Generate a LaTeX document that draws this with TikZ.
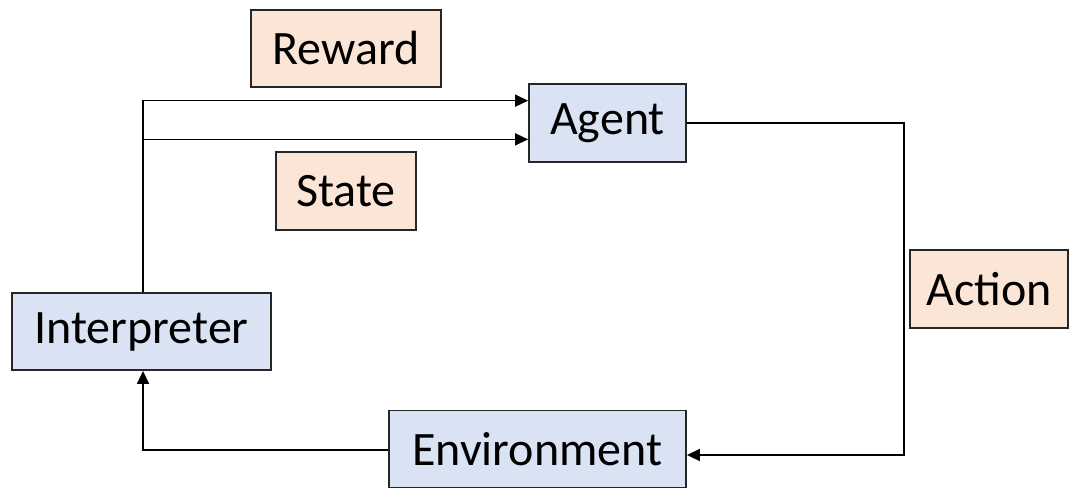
\documentclass[tikz,border=0pt]{standalone}
\usepackage{fontspec}
\setmainfont{Carlito}
\usetikzlibrary{arrows.meta,calc}
\definecolor{peach}{HTML}{FBE5D6}
\definecolor{paleblue}{HTML}{DAE3F3}
\definecolor{edge}{HTML}{262626}
\tikzset{
  box/.style={draw=edge, line width=1.8pt, rectangle, inner sep=0pt,
    font=\fontsize{48}{54}\selectfont, text=black},
  unit/.style={box, fill=paleblue},
  tag/.style={box, fill=peach},
  flow/.style={draw=black, line width=1.6pt, -{Triangle[length=13pt,width=12pt]}},
  plain/.style={draw=black, line width=1.6pt}
}
\begin{document}
\begin{tikzpicture}[x=1pt,y=-1pt]
  \useasboundingbox (0,0) rectangle (1070,487);
  % blocks of the loop
  \node[unit, minimum width=157pt, minimum height=78pt] (agent) at (607.5,123) {Agent};
  \node[unit, minimum width=259pt, minimum height=77pt] (interp) at (141.5,331.5) {Interpreter};
  \node[unit, minimum width=297pt, minimum height=77pt] (env) at (537.5,449) {Environment};
  % signal labels
  \node[tag, minimum width=190pt, minimum height=77pt] (reward) at (346,48.5) {Reward};
  \node[tag, minimum width=140pt, minimum height=78pt] (state) at (346,191) {State};
  \node[tag, minimum width=158pt, minimum height=78pt] (action) at (989,289) {Action};
  % interpreter feeds reward and state to the agent
  \coordinate (rin) at ($(agent.north west)!0.22!(agent.south west)$);
  \coordinate (sin) at ($(agent.north west)!0.705!(agent.south west)$);
  \coordinate (split) at ($(interp.north)+(1.5,0)$);
  \draw[flow] (split) |- (rin);
  \draw[flow] (split |- sin) -- (sin);
  % agent acts on the environment
  \draw[flow] (agent.east) -- ++(217,0) |- ([yshift=-6pt]env.east);
  % environment reports back to the interpreter
  \draw[flow] ([yshift=-1pt]env.west) -| (split |- interp.south);
\end{tikzpicture}
\end{document}
